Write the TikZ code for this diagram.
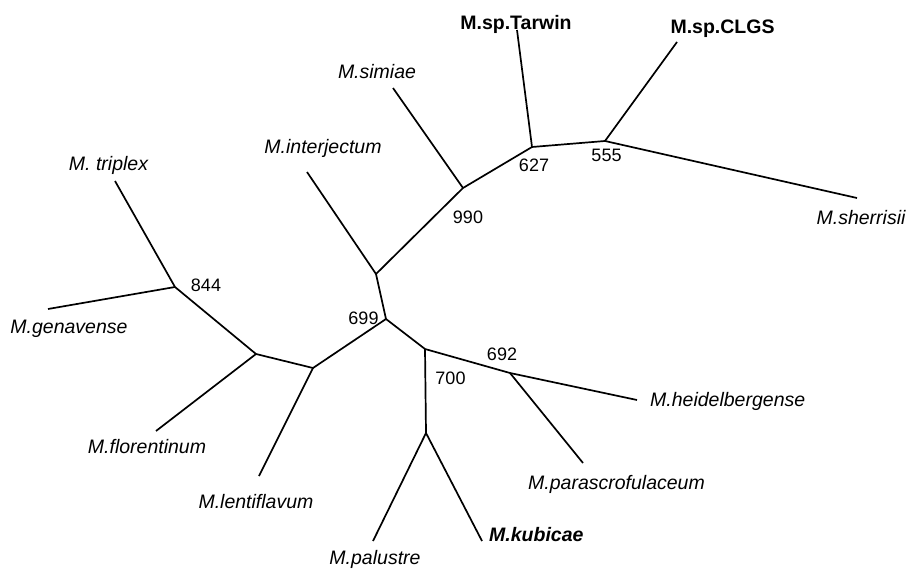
\documentclass[tikz,border=0pt]{standalone}
\usepackage{fontspec}
\setmainfont{Liberation Sans}
\begin{document}
\begin{tikzpicture}[x=1pt, y=-1pt,
        taxon/.style={anchor=base, inner sep=0pt, font=\fontsize{19.5}{23}\selectfont\itshape},
        strain/.style={anchor=base, inner sep=0pt, font=\fontsize{19.5}{23}\selectfont\bfseries},
        support/.style={anchor=base, inner sep=0pt, font=\fontsize{18}{21}\selectfont},
        branch/.style={line width=1.7pt}]
    \useasboundingbox (0,0) rectangle (909,569);
    % inner nodes
    \coordinate (n844) at (175,287);
    \coordinate (nflor) at (256,354);
    \coordinate (nlent) at (313,368);
    \coordinate (n699) at (386,319);
    \coordinate (ninter) at (376,274);
    \coordinate (n990) at (463,188);
    \coordinate (n627) at (532,147);
    \coordinate (n555) at (605,141);
    \coordinate (nlow) at (425,349);
    \coordinate (n700) at (426,433);
    \coordinate (n692) at (510,373);
    % leaves
    \coordinate (triplex) at (115,181);
    \coordinate (genavense) at (48,309);
    \coordinate (florentinum) at (156,431);
    \coordinate (lentiflavum) at (259,476);
    \coordinate (interjectum) at (307,172);
    \coordinate (simiae) at (393,88);
    \coordinate (tarwin) at (517,30);
    \coordinate (clgs) at (677,42);
    \coordinate (sherrisii) at (857,198);
    \coordinate (palustre) at (373,541);
    \coordinate (kubicae) at (482,541);
    \coordinate (heidelbergense) at (637,400);
    \coordinate (parascrofulaceum) at (583,463);
    % branches
    \draw[branch] (triplex) -- (n844) -- (nflor) -- (nlent) -- (n699) -- (ninter) -- (n990) -- (n627) -- (n555) -- (sherrisii);
    \draw[branch] (genavense) -- (n844);
    \draw[branch] (florentinum) -- (nflor);
    \draw[branch] (lentiflavum) -- (nlent);
    \draw[branch] (interjectum) -- (ninter);
    \draw[branch] (simiae) -- (n990);
    \draw[branch] (tarwin) -- (n627);
    \draw[branch] (clgs) -- (n555);
    \draw[branch] (n699) -- (nlow) -- (n692) -- (heidelbergense);
    \draw[branch] (nlow) -- (n700) -- (palustre);
    \draw[branch] (n700) -- (kubicae);
    \draw[branch] (n692) -- (parascrofulaceum);
    % taxa
    \node[taxon] (ltriplex) at (108.5,171) {M. triplex};
    \node[taxon] (lgenavense) at (69,333) {M.genavense};
    \node[taxon] (lflorentinum) at (147,453) {M.florentinum};
    \node[taxon] (llentiflavum) at (256,508) {M.lentiflavum};
    \node[taxon] (linterjectum) at (323,154) {M.interjectum};
    \node[taxon] (lsimiae) at (377,79) {M.simiae};
    \node[strain] (ltarwin) at (516,30) {M.sp.Tarwin};
    \node[strain] (lclgs) at (722.5,34) {M.sp.CLGS};
    \node[taxon] (lsherrisii) at (861,225) {M.sherrisii};
    \node[taxon] (lpalustre) at (375,564) {M.palustre};
    \node[taxon, anchor=base west, font=\fontsize{19.5}{23}\selectfont\bfseries\itshape] (lkubicae) at (489,541) {M.kubicae};
    \node[taxon, anchor=base west] (lheidelbergense) at (650,406) {M.heidelbergense};
    \node[taxon] (lparascrofulaceum) at (616.5,489) {M.parascrofulaceum};
    % bootstrap values
    \node[support] (b844) at (206,291) {844};
    \node[support] (b699) at (363.5,324) {699};
    \node[support] (b700) at (450.5,384) {700};
    \node[support] (b692) at (502,360) {692};
    \node[support] (b990) at (468,223) {990};
    \node[support] (b627) at (534,172) {627};
    \node[support] (b555) at (606.5,162) {555};
\end{tikzpicture}
\end{document}
